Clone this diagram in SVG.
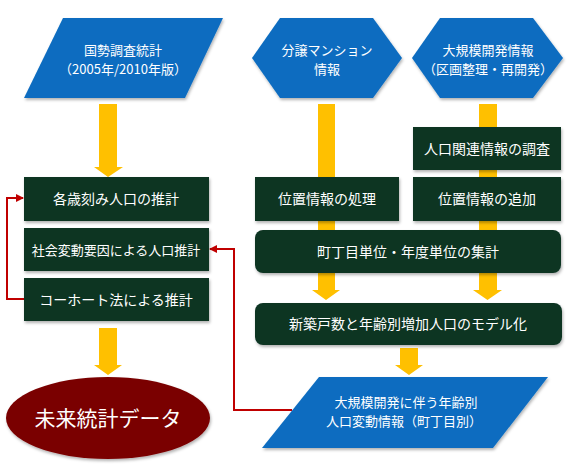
<svg xmlns="http://www.w3.org/2000/svg" width="569" height="464" viewBox="0 0 569 464">
<defs>
<style>
.blue{fill:#0A6CC0;filter:url(#sh);}
.box{fill:#0C3424;filter:url(#sh);}
.yel{fill:#FFC000;}
.red{fill:none;stroke:#C00000;stroke-width:2;}
.t{font-family:"Noto Sans CJK JP","Noto Sans",sans-serif;fill:#ffffff;text-anchor:middle;font-size:14px;}
.t2{font-size:13px;}
</style>
<filter id="sh" x="-10%" y="-10%" width="120%" height="130%">
<feDropShadow dx="1" dy="2" stdDeviation="1.5" flood-color="#000" flood-opacity="0.3"/>
</filter>
<marker id="ar" markerWidth="8" markerHeight="8" refX="7" refY="4" orient="auto" markerUnits="userSpaceOnUse">
<path d="M0,0 L8,4 L0,8 Z" fill="#C00000"/>
</marker>
</defs>
<g id="connectors">
<polygon class="yel" points="99,104 117,104 117,167 123,167 108,177 94,167 99,167"/>
<polygon class="yel" points="318,104 335,104 335,290 340,290 326,300 312,290 318,290"/>
<polygon class="yel" points="479,104 497,104 497,290 502,290 487.5,300 473,290 479,290"/>
<polygon class="yel" points="400,348 418,348 418,365 423,365 409,375 395,365 400,365"/>
<polygon class="yel" points="99,328 117,328 117,365 122,365 108,375 94,365 99,365"/>
<polyline class="red" points="24,299 7,299 7,198 23,198" marker-end="url(#ar)"/>
<polyline class="red" points="292,410 234,410 234,249 210,249" marker-end="url(#ar)"/>
</g>
<g id="n-kokusei">
<polygon class="blue" points="63,18 223,18 185,98 24,98"/>
<text class="t t2" x="123" y="55">国勢調査統計</text>
<text class="t t2" x="123" y="74">（2005年/2010年版）</text>
</g>
<g id="n-bunjo">
<polygon class="blue" points="252,58 280,18 373,18 402,58 373,98 280,98"/>
<text class="t t2" x="327" y="55">分譲マンション</text>
<text class="t t2" x="327" y="74">情報</text>
</g>
<g id="n-daikibo">
<polygon class="blue" points="412,58 440,18 533,18 563,58 533,98 440,98"/>
<text class="t t2" x="488" y="55">大規模開発情報</text>
<text class="t t2" x="488" y="74">（区画整理・再開発）</text>
</g>
<g id="n-jinko-chosa">
<rect class="box" x="413" y="127" width="148" height="43"/>
<text class="t" x="487" y="153.5">人口関連情報の調査</text>
</g>
<g id="n-ichi-shori">
<rect class="box" x="255" y="177" width="144" height="44"/>
<text class="t" x="327" y="204">位置情報の処理</text>
</g>
<g id="n-ichi-tsuika">
<rect class="box" x="413" y="177" width="148" height="44"/>
<text class="t" x="487" y="204">位置情報の追加</text>
</g>
<g id="n-shukei">
<rect class="box" x="255" y="230" width="306" height="43" rx="8"/>
<text class="t" x="408" y="256.5">町丁目単位・年度単位の集計</text>
</g>
<g id="n-model">
<rect class="box" x="255" y="303" width="307" height="42" rx="8"/>
<text class="t" x="408" y="329">新築戸数と年齢別増加人口のモデル化</text>
</g>
<g id="n-hendo">
<polygon class="blue" points="319,377 548,377 493,448 262,448"/>
<text class="t t2" x="406" y="407">大規模開発に伴う年齢別</text>
<text class="t t2" x="404" y="426">人口変動情報（町丁目別）</text>
</g>
<g id="n-kakusai">
<rect class="box" x="24" y="177" width="185" height="44"/>
<text class="t" x="116" y="204">各歳刻み人口の推計</text>
</g>
<g id="n-shakai">
<rect class="box" x="24" y="228" width="185" height="43"/>
<text class="t t2" x="116" y="254.5">社会変動要因による人口推計</text>
</g>
<g id="n-cohort">
<rect class="box" x="24" y="278" width="185" height="43"/>
<text class="t" x="116" y="304.5">コーホート法による推計</text>
</g>
<g id="n-mirai">
<ellipse cx="108" cy="418" rx="102" ry="41" fill="#7A0000" filter="url(#sh)"/>
<text class="t" x="108" y="425.5" style="font-size:21px">未来統計データ</text>
</g>
</svg>
